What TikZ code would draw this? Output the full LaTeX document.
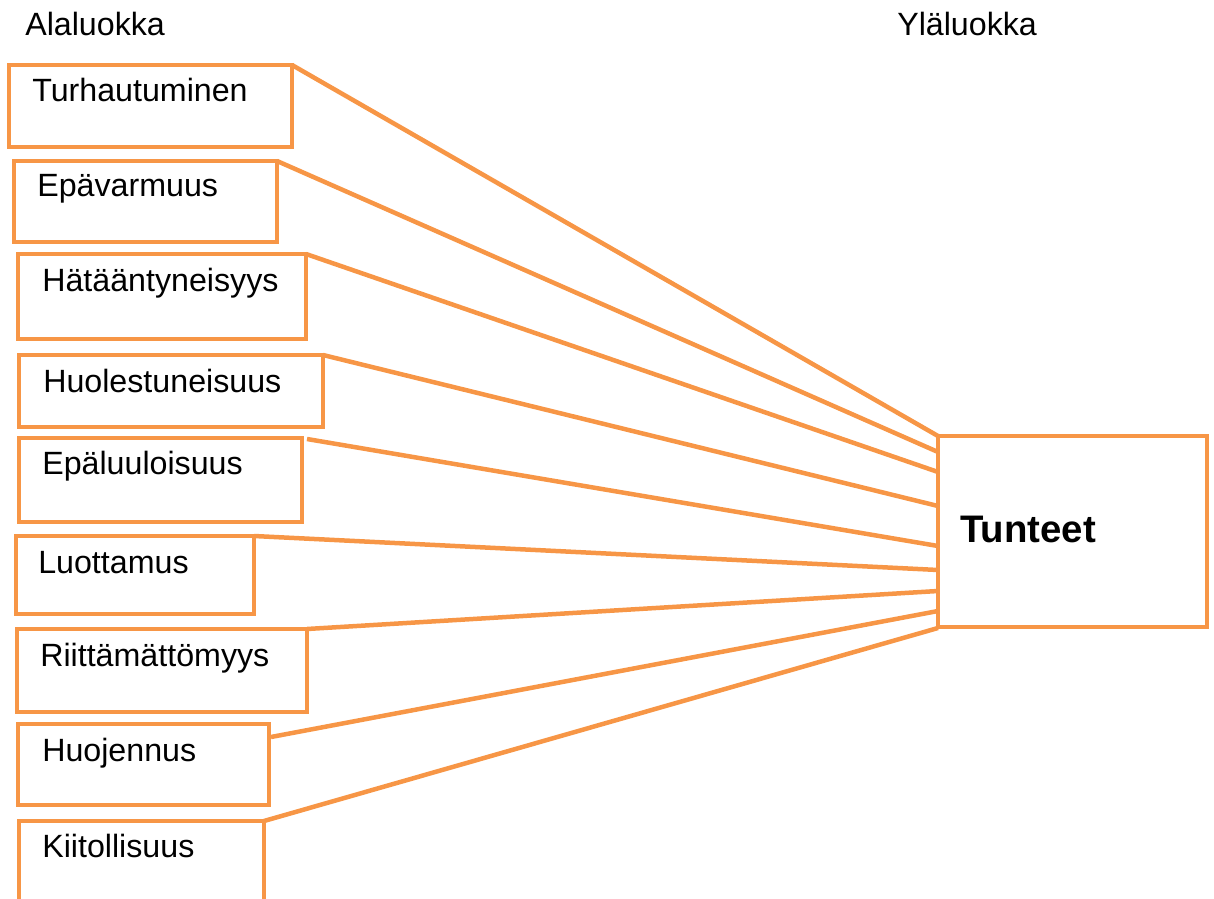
\documentclass[tikz,border=0pt]{standalone}
\usepackage{fontspec}
\setmainfont{Liberation Sans}
\definecolor{boxorange}{HTML}{F79646}
\begin{document}
\begin{tikzpicture}[x=0.025cm,y=-0.025cm,
  box/.style={draw=boxorange, line width=3.2pt, rectangle, inner sep=0pt, outer sep=0pt, anchor=north west},
  lbl/.style={anchor=base west, inner sep=0pt, font=\fontsize{22.9}{27}\selectfont},
  link/.style={draw=boxorange, line width=3.2pt}]
\clip (0,0) rectangle (1214,899);

% column headings
\node[lbl] (hsub) at (25,36) {Alaluokka};
\node[lbl] (hsup) at (897,36) {Yläluokka};

% subcategory boxes and their labels
\node[box, minimum width=283*0.025cm, minimum height=82*0.025cm] (b1) at (9,65) {};
\node[lbl] (l1) at (32,102) {Turhautuminen};
\node[box, minimum width=263*0.025cm, minimum height=81*0.025cm] (b2) at (14,161) {};
\node[lbl] (l2) at (37,197) {Epävarmuus};
\node[box, minimum width=288*0.025cm, minimum height=85*0.025cm] (b3) at (18,254) {};
\node[lbl] (l3) at (42,291) {Hätääntyneisyys};
\node[box, minimum width=304*0.025cm, minimum height=72*0.025cm] (b4) at (19,355) {};
\node[lbl] (l4) at (43,392) {Huolestuneisuus};
\node[box, minimum width=283*0.025cm, minimum height=84*0.025cm] (b5) at (19,438) {};
\node[lbl] (l5) at (42,474) {Epäluuloisuus};
\node[box, minimum width=238*0.025cm, minimum height=78*0.025cm] (b6) at (16,536) {};
\node[lbl] (l6) at (38,573) {Luottamus};
\node[box, minimum width=290*0.025cm, minimum height=83*0.025cm] (b7) at (17,629) {};
\node[lbl] (l7) at (40,666) {Riittämättömyys};
\node[box, minimum width=251*0.025cm, minimum height=81*0.025cm] (b8) at (18,724) {};
\node[lbl] (l8) at (42,761) {Huojennus};
\node[box, minimum width=245*0.025cm, minimum height=120*0.025cm] (b9) at (19,821) {};
\node[lbl] (l9) at (42,857) {Kiitollisuus};

% main category box
\node[box, minimum width=269*0.025cm, minimum height=191*0.025cm] (top) at (938,436) {};
\node[lbl, font=\fontsize{27.3}{31}\selectfont\bfseries] (topl) at (960,542) {Tunteet};

% where the links meet the main box
\coordinate (e1) at (938,436);
\coordinate (e2) at (938,452);
\coordinate (e3) at (938,472);
\coordinate (e4) at (938,506);
\coordinate (e5) at (938,546);
\coordinate (e6) at (938,570);
\coordinate (e7) at (938,591);
\coordinate (e8) at (938,611);
\coordinate (e9) at (938,628);
\coordinate (s5) at (307,439);
\coordinate (s8) at (271,737);

\draw[link] (b1.north east) -- (e1);
\draw[link] (b2.north east) -- (e2);
\draw[link] (b3.north east) -- (e3);
\draw[link] (b4.north east) -- (e4);
\draw[link] (s5) -- (e5);
\draw[link] (b6.north east) -- (e6);
\draw[link] (b7.north east) -- (e7);
\draw[link] (s8) -- (e8);
\draw[link] (b9.north east) -- (e9);
\end{tikzpicture}
\end{document}
